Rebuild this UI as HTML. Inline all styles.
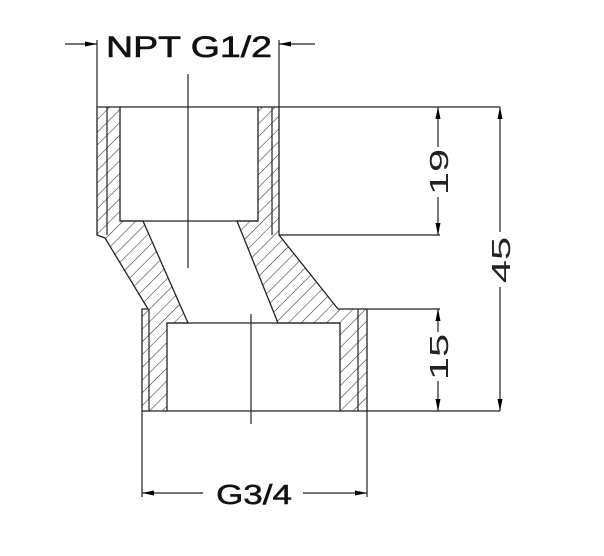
<!DOCTYPE html>
<html><head><style>body{margin:0;background:#fff}svg{display:block}</style></head><body>
<svg width="604" height="556" viewBox="0 0 604 556" xmlns="http://www.w3.org/2000/svg">
<defs>
<pattern id="h" patternUnits="userSpaceOnUse" width="9" height="9" patternTransform="rotate(45)">
<line x1="0" y1="0" x2="0" y2="9" stroke="#333" stroke-width="1.1"/>
</pattern>
<marker id="a" markerWidth="12" markerHeight="6" refX="12" refY="3" orient="auto" markerUnits="userSpaceOnUse">
<path d="M0,0.5 L12,3 L0,5.5 Z" fill="#000"/>
</marker>
</defs>
<g stroke="#222" stroke-width="1.3" fill="url(#h)">
<polygon points="97,107 120,107 120,221 143,221 188,323 167,323 167,411 142,411 142,309 148,309 105,238 97,235"/>
<polygon points="258,107 279,107 279,235 338,309 367,309 367,411 340,411 340,323 278,323 237,221 258,221"/>
</g>
<g stroke="#222" stroke-width="1.2" fill="none">
<line x1="107" y1="107" x2="107" y2="235"/>
<line x1="272" y1="107" x2="272" y2="235"/>
<line x1="149" y1="309" x2="149" y2="411"/>
<line x1="358" y1="309" x2="358" y2="411"/>
<line x1="120" y1="221" x2="258" y2="221"/>
<line x1="167" y1="323" x2="340" y2="323"/>
<line x1="120" y1="107" x2="258" y2="107"/>
<line x1="167" y1="411" x2="340" y2="411"/>
<line x1="188" y1="74" x2="188" y2="268"/>
<line x1="251" y1="314" x2="251" y2="424"/>
<line x1="279" y1="107" x2="500" y2="107"/>
<line x1="279" y1="235" x2="440" y2="235"/>
<line x1="367" y1="309" x2="440" y2="309"/>
<line x1="367" y1="411" x2="500" y2="411"/>
<line x1="97" y1="107" x2="97" y2="40"/>
<line x1="279" y1="107" x2="279" y2="40"/>
<line x1="142" y1="411" x2="142" y2="497"/>
<line x1="367" y1="411" x2="367" y2="497"/>
<line x1="65" y1="44" x2="97" y2="44" marker-end="url(#a)"/>
<line x1="315" y1="44" x2="279" y2="44" marker-end="url(#a)"/>
<line x1="203" y1="493" x2="142" y2="493" marker-end="url(#a)"/>
<line x1="303" y1="493" x2="367" y2="493" marker-end="url(#a)"/>
<line x1="438" y1="147" x2="438" y2="107" marker-end="url(#a)"/>
<line x1="438" y1="197" x2="438" y2="235" marker-end="url(#a)"/>
<line x1="438" y1="332" x2="438" y2="309" marker-end="url(#a)"/>
<line x1="438" y1="381" x2="438" y2="411" marker-end="url(#a)"/>
<line x1="500" y1="232" x2="500" y2="107" marker-end="url(#a)"/>
<line x1="500" y1="287" x2="500" y2="411" marker-end="url(#a)"/>
</g>
<g font-family="Liberation Sans, sans-serif" fill="#111">
<text transform="translate(189,57) scale(1.25,1)" font-size="30" text-anchor="middle" stroke="#111" stroke-width="0.6">NPT G1/2</text>
<text transform="translate(254,504) scale(1.25,1)" font-size="28" text-anchor="middle" stroke="#111" stroke-width="0.5">G3/4</text>
</g>
<g font-family="Liberation Sans, sans-serif" fill="#222" stroke="#fff" stroke-width="0.9" paint-order="stroke">
<text transform="translate(448,172) rotate(-90) scale(1.6,1)" font-size="26" text-anchor="middle">19</text>
<text transform="translate(448,357) rotate(-90) scale(1.6,1)" font-size="26" text-anchor="middle">15</text>
<text transform="translate(510,260) rotate(-90) scale(1.6,1)" font-size="26" text-anchor="middle">45</text>
</g>
</svg>
</body></html>
